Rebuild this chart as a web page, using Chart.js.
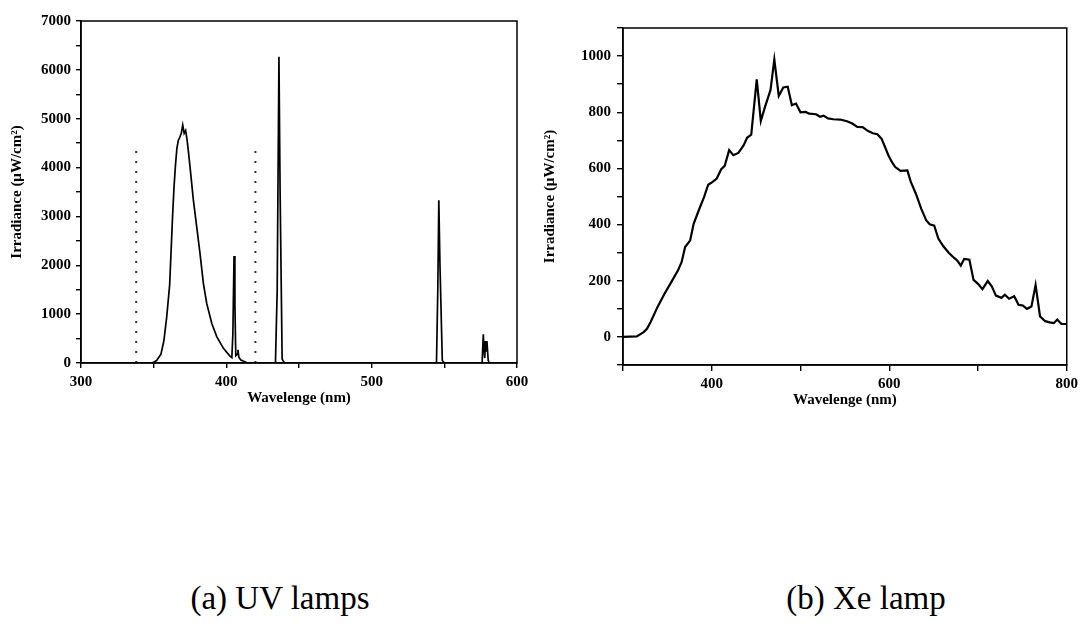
<!DOCTYPE html>
<html>
<head>
<meta charset="utf-8">
<script src="https://cdn.jsdelivr.net/npm/chart.js@4.4.0/dist/chart.umd.min.js"></script>
<style>
  body { margin: 0; background: #fff; width: 1082px; height: 633px; position: relative; overflow: hidden; }
  #wrapA { position: absolute; left: 0; top: 0; }
  #wrapB { position: absolute; left: 540px; top: 0; }
  .cap { position: absolute; top: 580px; font-family: "Liberation Serif", "Times New Roman", "DejaVu Serif", serif; font-size: 33px; color: #000; white-space: nowrap; transform: translateX(-50%); }
</style>
</head>
<body>
<div id="wrapA"><canvas id="uvChart" width="540" height="407"></canvas></div>
<div id="wrapB"><canvas id="xeChart" width="542" height="409"></canvas></div>
<div class="cap" style="left:280px">(a) UV lamps</div>
<div class="cap" style="left:866px">(b) Xe lamp</div>
<script>
// (a) UV lamps spectrum
const uvWavelength = [300, 348, 350, 352, 355, 357, 359, 361, 363, 364, 365, 366, 367, 368, 369, 370, 371, 372, 373, 374, 375, 377.3, 379.6, 381.9, 384.2, 386.5, 390, 393.4, 398, 402.5, 403.8, 404.5, 405.3, 405.9, 406.5, 407.5, 408, 408.6, 410, 414, 416,
  433.8, 435, 436.2, 437, 438.4, 440,
  544.6, 545.5, 546.2, 547, 548.6, 550,
  576, 576.8, 577.4, 577.8, 578.3, 578.8, 579.3, 580.2, 581, 600];
const uvIrradiance = [0, 0, 15, 50, 180, 450, 950, 1600, 3000, 3600, 4050, 4400, 4560, 4620, 4700, 4870, 4700, 4760, 4560, 4300, 4020, 3340, 2790, 2240, 1630, 1220, 810, 540, 300, 140, 110, 600, 2190, 1200, 150, 180, 270, 120, 60, 10, 0,
  0, 1500, 6270, 3500, 80, 0,
  0, 1500, 3330, 2000, 50, 0,
  0, 590, 250, 100, 450, 250, 450, 50, 0, 0];
const uvMarkers = [338, 420];
const uvMarkerTop = 4500;

// (b) Xe lamp spectrum
const xeWavelength = [300, 315.5, 323.3, 327, 331, 338.8, 346.6, 354.4, 362, 366, 370, 375.7, 379.6, 385.4, 391.3, 396, 401, 405.6, 410.7, 414.6, 419.6, 424.3, 430, 436, 439.8, 444.5, 450.7, 455.3, 460, 466.2, 470.5, 475.5, 480.6, 485.6, 490.3, 494.9, 500, 505.8, 509.7, 517.5, 522, 526, 531, 536.9, 544.7, 552.4, 558.3, 564, 570, 575.7, 581.6, 586.6, 591.3, 595.1, 599, 602.9, 606.8, 612.6, 620.4, 624.3, 630, 636, 641.7, 645.6, 650.7, 655.3, 661.2, 667, 672.8, 676.7, 680.6, 684.5, 690.3, 695, 700, 705, 711, 715.5, 720.2, 726.4, 730.3, 735, 740.8, 745.8, 750.5, 755.1, 760.2, 764.9, 769.9, 775.7, 780.8, 785.4, 789.3, 794, 800];
const xeIrradiance = [0, 2, 17, 29, 52, 106, 153, 195, 237, 266, 320, 344, 403, 451, 498, 542, 552, 564, 597, 609, 665, 647, 655, 683, 709, 720, 917, 769, 819, 879, 988, 858, 888, 891, 825, 831, 800, 801, 795, 793, 784, 788, 778, 775, 774, 768, 760, 748, 747, 734, 725, 722, 706, 677, 647, 623, 605, 591, 593, 552, 510, 457, 415, 401, 396, 350, 322, 300, 282, 272, 254, 278, 275, 203, 189, 170, 199, 180, 147, 139, 150, 136, 145, 114, 112, 100, 108, 185, 73, 56, 52, 49, 62, 46, 46];

const serifStack = '"Liberation Serif", "Times New Roman", "DejaVu Serif", serif';
const axisFont = { family: serifStack, weight: 'bold', size: 15 };
const yTitle = 'Irradiance (\u03BCW/cm\u00B2)';
const xTitle = 'Wavelenge (nm)';

function toPoints(xs, ys) {
    return xs.map((x, i) => ({ x: x, y: ys[i] }));
}

// marco completo alrededor del área del gráfico
const frame = {
    id: 'frame',
    afterDatasetsDraw(chart) {
        const a = chart.chartArea;
        const ctx = chart.ctx;
        ctx.save();
        ctx.strokeStyle = '#000';
        ctx.lineWidth = 1.5;
        ctx.strokeRect(a.left, a.top, a.right - a.left, a.bottom - a.top);
        ctx.restore();
    }
};

function axis(opts) {
    return {
        type: 'linear',
        min: opts.min,
        max: opts.max,
        border: { display: true, color: '#000', width: 1.5 },
        grid: { display: true, drawOnChartArea: false, drawTicks: true, tickLength: opts.tick, color: '#000', lineWidth: 1.4 },
        ticks: {
            stepSize: opts.step,
            autoSkip: false,
            maxRotation: 0,
            padding: opts.pad,
            color: '#000',
            font: axisFont,
            callback: (v) => (v % opts.labelEvery === 0 ? v : '')
        },
        title: { display: true, text: opts.title, color: '#000', font: axisFont, padding: 0 },
        afterFit: opts.fit
    };
}

Chart.defaults.font.family = serifStack;

new Chart(document.getElementById('uvChart'), {
    type: 'line',
    data: {
        datasets: [{
            data: toPoints(uvWavelength, uvIrradiance),
            borderColor: '#000',
            borderWidth: 1.7,
            pointRadius: 0,
            tension: 0
        }].concat(uvMarkers.map(m => ({
            data: [{ x: m, y: 0 }, { x: m, y: uvMarkerTop }],
            borderColor: '#333',
            borderWidth: 2,
            borderDash: [2, 8],
            pointRadius: 0
        })))
    },
    options: {
        responsive: false,
        animation: false,
        devicePixelRatio: 1,
        layout: { padding: { left: 8, top: 21, right: 23, bottom: 0 } },
        plugins: { legend: { display: false }, tooltip: { enabled: false } },
        scales: {
            x: axis({ min: 300, max: 600, step: 50, labelEvery: 100, tick: 5, pad: 5, title: xTitle,
                fit: s => { s.height = 44; } }),
            y: axis({ min: 0, max: 7000, step: 500, labelEvery: 1000, tick: 5, pad: 5, title: yTitle,
                fit: s => { s.width = 73; } })
        }
    },
    plugins: [frame]
});

new Chart(document.getElementById('xeChart'), {
    type: 'line',
    data: {
        datasets: [{
            data: toPoints(xeWavelength, xeIrradiance),
            borderColor: '#000',
            borderWidth: 2.2,
            pointRadius: 0,
            tension: 0
        }]
    },
    options: {
        responsive: false,
        animation: false,
        devicePixelRatio: 1,
        layout: { padding: { left: 1, top: 28, right: 14, bottom: 0 } },
        plugins: { legend: { display: false }, tooltip: { enabled: false } },
        scales: {
            x: axis({ min: 300, max: 800, step: 100, labelEvery: 200, tick: 6, pad: 4, title: xTitle,
                fit: s => { s.height = 44; } }),
            y: axis({ min: -100, max: 1100, step: 100, labelEvery: 200, tick: 6, pad: 6, title: yTitle,
                fit: s => { s.width = 82; } })
        }
    },
    plugins: [frame]
});
</script>
</body>
</html>
